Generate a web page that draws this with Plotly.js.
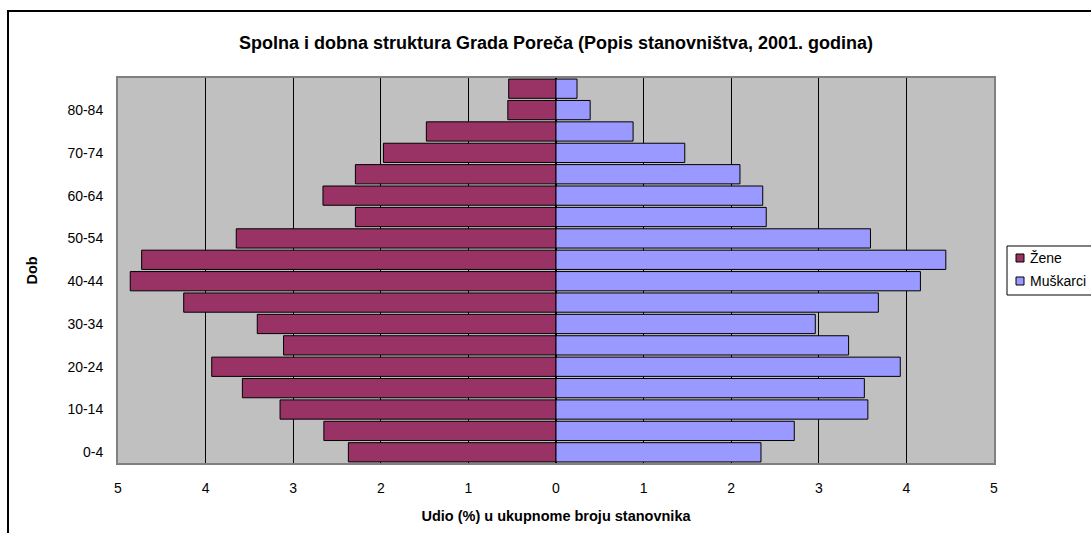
<!DOCTYPE html>
<html>
<head>
<meta charset="utf-8">
<script src="https://cdn.plot.ly/plotly-3.0.1.min.js"></script>
<style>
html,body{margin:0;padding:0;background:#fff;}
#chart{width:1091px;height:533px;}
</style>
</head>
<body>
<div id="chart"></div>
<script>
const ageGroups = ["0-4","5-9","10-14","15-19","20-24","25-29","30-34","35-39","40-44","45-49","50-54","55-59","60-64","65-69","70-74","75-79","80-84","85+"];
const women = [2.37,2.65,3.15,3.58,3.93,3.11,3.41,4.25,4.86,4.73,3.65,2.29,2.66,2.29,1.97,1.48,0.55,0.54];
const men = [2.34,2.72,3.56,3.52,3.93,3.34,2.96,3.68,4.16,4.45,3.59,2.40,2.36,2.10,1.47,0.88,0.39,0.24];
const yTickLabels = ["0-4","10-14","20-24","30-34","40-44","50-54","60-64","70-74","80-84"];
const xTickVals = [-5,-4,-3,-2,-1,0,1,2,3,4,5];
const xTickText = ["5","4","3","2","1","0","1","2","3","4","5"];
const seriesNames = ["Žene","Muškarci"];
const seriesColors = ["#993366","#9999FF"];

const font = "Liberation Sans, Arial, sans-serif";

const traces = [
  {
    type: "bar", orientation: "h", name: seriesNames[0],
    y: ageGroups, x: women.map(v => -v),
    marker: {color: seriesColors[0], line: {color: "#000", width: 1}},
    customdata: women, hovertemplate: "%{y}: %{customdata}%<extra>Žene</extra>"
  },
  {
    type: "bar", orientation: "h", name: seriesNames[1],
    y: ageGroups, x: men,
    marker: {color: seriesColors[1], line: {color: "#000", width: 1}},
    hovertemplate: "%{y}: %{x}%<extra>Muškarci</extra>"
  }
];

// plot area in pixels: x 118..994, y 78..463
const L = 118, W = 876, B = 463, H = 385;
const px = v => (v - L) / W;
const py = v => (B - v) / H;

const legendRows = [258, 281];
const shapes = [
  {type: "rect", xref: "paper", yref: "paper",
   x0: px(8), x1: 1.3, y0: -0.5, y1: py(11),
   line: {color: "#000", width: 2}, fillcolor: "rgba(0,0,0,0)", layer: "below"},
  {type: "rect", xref: "paper", yref: "paper",
   x0: px(1007), x1: px(1110), y0: py(295), y1: py(246),
   line: {color: "#000", width: 1}, fillcolor: "#fff", layer: "above"}
];
const annotations = [];
seriesNames.forEach((name, i) => {
  const yc = legendRows[i];
  shapes.push({type: "rect", xref: "paper", yref: "paper",
    x0: px(1016), x1: px(1024), y0: py(yc + 4), y1: py(yc - 4),
    line: {color: "#000", width: 1}, fillcolor: seriesColors[i], layer: "above"});
  annotations.push({xref: "paper", yref: "paper", x: px(1028), y: py(yc),
    xanchor: "left", yanchor: "middle", showarrow: false, text: name,
    font: {family: font, size: 14, color: "#000"}});
});

const layout = {
  width: 1091, height: 533,
  margin: {l: 118, r: 97, t: 78, b: 70, autoexpand: false},
  paper_bgcolor: "#fff",
  plot_bgcolor: "#C0C0C0",
  barmode: "overlay",
  bargap: 0.1,
  font: {family: font, size: 14, color: "#000"},
  title: {
    text: "<b>Spolna i dobna struktura Grada Poreča (Popis stanovništva, 2001. godina)</b>",
    font: {family: font, size: 18, color: "#000"},
    x: 0.5, xref: "paper", xanchor: "center",
    y: 1 - 43/533, yref: "container", yanchor: "middle"
  },
  xaxis: {
    range: [-5, 5],
    tickvals: xTickVals, ticktext: xTickText,
    showgrid: true, gridcolor: "#000", gridwidth: 1,
    zeroline: true, zerolinecolor: "#000", zerolinewidth: 2,
    showline: true, linecolor: "#808080", linewidth: 2, mirror: true,
    ticks: "outside", ticklen: 11, tickcolor: "rgba(0,0,0,0)",
    tickfont: {family: font, size: 14},
    title: {text: "<b>Udio (%) u ukupnome broju stanovnika</b>", font: {family: font, size: 14.5}, standoff: 16},
    fixedrange: true
  },
  yaxis: {
    type: "category",
    categoryorder: "array", categoryarray: ageGroups,
    tickvals: yTickLabels, ticktext: yTickLabels,
    showgrid: false, zeroline: false,
    showline: true, linecolor: "#808080", linewidth: 2, mirror: true,
    ticks: "outside", ticklen: 10, tickcolor: "rgba(0,0,0,0)",
    tickfont: {family: font, size: 14},
    title: {text: "<b>Dob</b>", font: {family: font, size: 14.5}, standoff: 26},
    fixedrange: true
  },
  shapes: shapes,
  annotations: annotations,
  showlegend: false
};

Plotly.newPlot("chart", traces, layout, {displayModeBar: false, staticPlot: false});
</script>
</body>
</html>
